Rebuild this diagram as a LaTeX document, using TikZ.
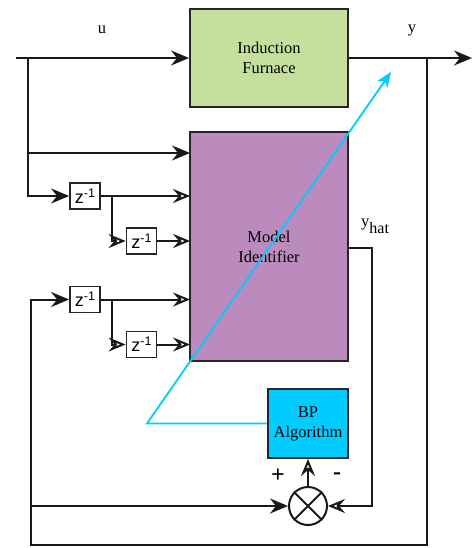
\documentclass[tikz,border=0pt]{standalone}
\usepackage{fontspec}
\setmainfont{Liberation Serif}
\newfontfamily\zsans{Liberation Sans}
\usetikzlibrary{arrows.meta,calc}
\definecolor{furn}{HTML}{C5DF9C}
\definecolor{modl}{HTML}{BC8BBE}
\definecolor{bpc}{HTML}{00CCFF}
\newcommand{\zinv}{z\raisebox{6pt}{\fontsize{12.5}{12.5}\selectfont -1}}
\tikzset{
  blk/.style={draw=black!85,line width=2pt,inner sep=0pt,align=center,font=\fontsize{16.5}{20}\selectfont},
  zbox/.style={draw=black!85,line width=1.8pt,fill=white,inner sep=0pt,minimum width=30pt,minimum height=26pt,font=\zsans\fontsize{18}{18}\selectfont},
  wire/.style={line width=2pt,draw=black!90},
  arr/.style={wire,-{Stealth[length=18pt,width=15pt,inset=6pt]}},
  oarr/.style={wire,-{Stealth[open,length=17pt,width=14pt,inset=6pt,fill=white]}},
  lbl/.style={font=\fontsize{16.5}{20}\selectfont,inner sep=0pt},
}
\begin{document}
\begin{tikzpicture}[x=1pt,y=-1pt]
\useasboundingbox (0,0) rectangle (473,548);
% blocks
\node[blk,fill=furn,minimum width=158pt,minimum height=98pt] (furnace) at (269,58) {Induction\\Furnace};
\node[blk,fill=modl,minimum width=158pt,minimum height=229pt] (model) at (269,246.5) {Model\\Identifier};
\node[blk,fill=bpc,minimum width=80pt,minimum height=69pt] (bp) at (308,423.5) {BP\\Algorithm};
\node[draw=black!90,line width=2pt,circle,minimum size=38pt,inner sep=0pt] (sum) at (308,506) {};
\draw[wire] (sum.north west) -- (sum.south east) (sum.north east) -- (sum.south west);
\node[zbox] (z1) at (85,196) {\zinv};
\node[zbox] (z2) at (141.5,241) {\zinv};
\node[zbox] (z3) at (85,299.5) {\zinv};
\node[zbox] (z4) at (141.5,344.5) {\zinv};
% coordinates
\coordinate (uin) at (16,58);
\coordinate (ubr) at (28,58);
\coordinate (m1) at (190,153);
\coordinate (m2) at (190,196);
\coordinate (m3) at (190,241);
\coordinate (m4) at (190,299.5);
\coordinate (m5) at (190,344.5);
\coordinate (b1) at (112,196);
\coordinate (b2) at (112,299.5);
\coordinate (yout) at (472,58);
\coordinate (ybr) at (427,58);
\coordinate (ybot) at (427,545);
\coordinate (lbot) at (31,545);
\coordinate (lsum) at (31,506);
\coordinate (yh) at (348,248);
\coordinate (yhr) at (372,248);
\coordinate (cy1) at (147,423.5);
\coordinate (cy2) at (391,72);
% wires
\draw[arr] (uin) -- (furnace.west);
\draw[arr] (ubr) |- (m1);
\draw[arr] (ubr) |- (z1.west);
\draw[oarr] (z1.east) -- (m2);
\draw[oarr] (b1) |- (z2.west);
\draw[oarr] (z2.east) -- (m3);
\draw[oarr] (z3.east) -- (m4);
\draw[oarr] (b2) |- (z4.west);
\draw[oarr] (z4.east) -- (m5);
\draw[arr] (furnace.east) -- (yout);
\draw[arr] (ybr) -- (ybot) -- (lbot) |- (z3.west);
\draw[arr] (lsum) -- (sum.west);
\draw[oarr] (yh) -- (yhr) |- (sum.east);
\draw[oarr] (sum.north) -- (bp.south);
\draw[bpc,line width=1.8pt,-{Stealth[length=15pt,width=12pt,inset=4pt]}] (bp.west) -- (cy1) -- (cy2);
% labels
\node[lbl] (ul) at (102,30) {u};
\node[lbl] (yl) at (412,30) {y};
\node[lbl,anchor=base west] (yhl) at (361,226) {y\raisebox{-7pt}{\fontsize{16}{16}\selectfont hat}};
\node[font=\fontsize{24}{24}\selectfont\bfseries,inner sep=0pt] (plus) at (278,476) {+};
\node[font=\fontsize{24}{24}\selectfont\bfseries,inner sep=0pt] (minus) at (337,476) {-};
\end{tikzpicture}
\end{document}
